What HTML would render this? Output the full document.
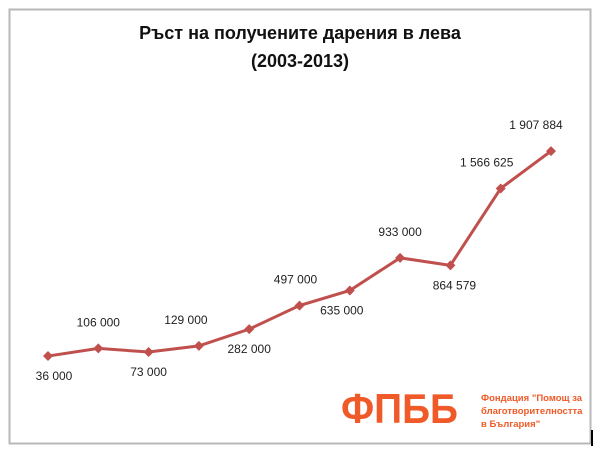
<!DOCTYPE html>
<html><head><meta charset="utf-8"><style>
body{margin:0;width:600px;height:454px;background:#fff;overflow:hidden;font-family:"Liberation Sans","DejaVu Sans",sans-serif}
</style></head><body>
<svg width="600" height="454">
<rect x="9.5" y="9.5" width="581" height="434" fill="#fff" stroke="#b8b8b8" stroke-width="2"/>
<line x1="592" y1="430" x2="592" y2="446" stroke="#000" stroke-width="2"/>
<text x="300" y="39" text-anchor="middle" font-size="18" font-weight="bold" fill="#111">Ръст на получените дарения в лева</text>
<text x="300" y="67" text-anchor="middle" font-size="18" font-weight="bold" fill="#111">(2003-2013)</text>
<g id="plot"></g>
<text x="341" y="423" font-size="42" font-weight="bold" fill="#f05a28" textLength="117" lengthAdjust="spacingAndGlyphs">ФПББ</text>
<g font-size="9.5" font-weight="bold" fill="#f05a28">
<text x="481" y="401">Фондация "Помощ за</text>
<text x="481" y="414">благотворителността</text>
<text x="481" y="427">в България"</text>
</g>
</svg>
<script>
const years=[2003,2004,2005,2006,2007,2008,2009,2010,2011,2012,2013];
const values=[36000,106000,73000,129000,282000,497000,635000,933000,864579,1566625,1907884];
const labels=["36 000","106 000","73 000","129 000","282 000","497 000","635 000","933 000","864 579","1 566 625","1 907 884"];
const labelPos=["below","above","below","above","below","above","below","above","below","above","above"];
const xs=i=>48+(i)*50.3;
const ys=v=>360-v*0.0001095;
const g=document.getElementById('plot');
const NS='http://www.w3.org/2000/svg';
const line=document.createElementNS(NS,'polyline');
line.setAttribute('points',values.map((v,i)=>xs(i)+','+ys(v)).join(' '));
line.setAttribute('fill','none');line.setAttribute('stroke','#c0504d');line.setAttribute('stroke-width','3');


g.appendChild(line);
values.forEach((v,i)=>{
 const x=xs(i),y=ys(v);
 const m=document.createElementNS(NS,'polygon');
 m.setAttribute('points',`${x},${y-5} ${x+5},${y} ${x},${y+5} ${x-5},${y}`);
 m.setAttribute('fill','#c0504d');
 
 
 g.appendChild(m);
 const t=document.createElementNS(NS,'text');
 let dx=0; if(i===0)dx=6; if(i===3)dx=-13; if(i===9)dx=-14; if(i===10)dx=-15; if(i===8)dx=4; if(i===5)dx=-4; if(i===6)dx=-8;
 t.setAttribute('x',x+dx);
 t.setAttribute('y',labelPos[i]==='above'?y-22:y+24);
 t.setAttribute('text-anchor','middle');t.setAttribute('font-size','12');t.setAttribute('fill','#222');
 t.textContent=labels[i];
 
 
 g.appendChild(t);
});
</script>
</body></html>
